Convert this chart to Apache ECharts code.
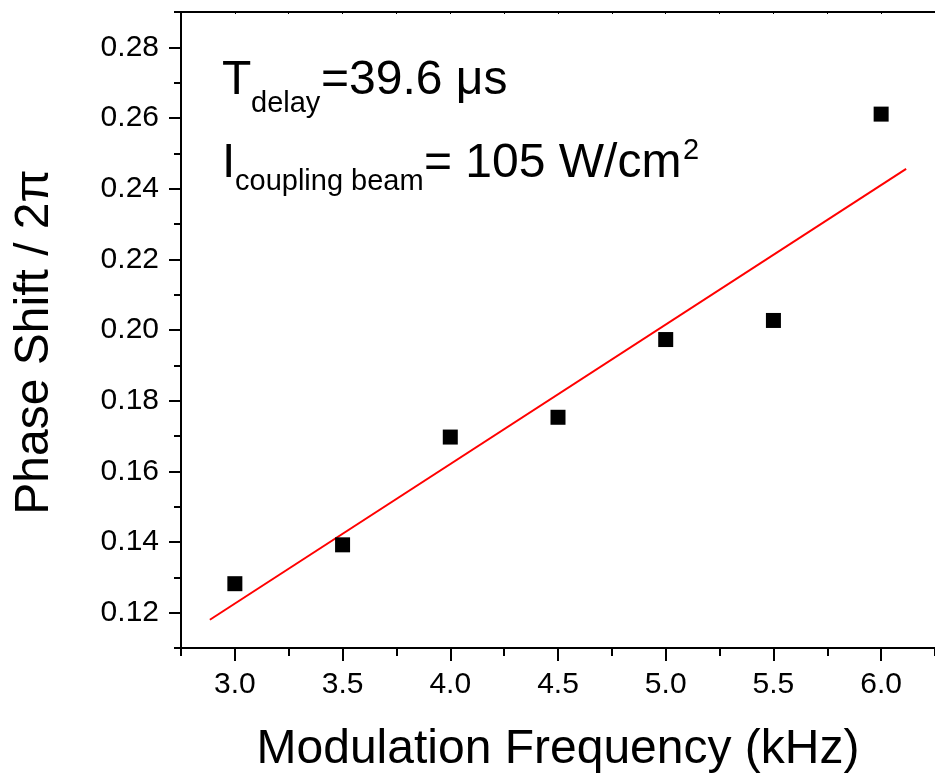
<!DOCTYPE html>
<html>
<head>
<meta charset="utf-8">
<script src="https://cdn.jsdelivr.net/npm/echarts@6/dist/echarts.min.js"></script>
<style>
  html, body { margin: 0; padding: 0; background: #fff; }
  #chart { width: 935px; height: 781px; }
</style>
</head>
<body>
<div id="chart"></div>
<script>
// measured points
const freq = [3.0, 3.5, 4.0, 4.5, 5.0, 5.5, 6.0]
const phase = [0.1282, 0.1392, 0.1697, 0.1753, 0.1973, 0.2027, 0.2611]

// linear fit line, endpoints
const fitX = [2.884, 6.116]
const fitY = [0.118, 0.2456]

// tick positions
const xMajorTicks = [3.0, 3.5, 4.0, 4.5, 5.0, 5.5, 6.0]
const xMinorTicks = [2.75, 3.25, 3.75, 4.25, 4.75, 5.25, 5.75, 6.25]
const yMajorTicks = [0.12, 0.14, 0.16, 0.18, 0.20, 0.22, 0.24, 0.26, 0.28]
const yMinorTicks = [0.11, 0.13, 0.15, 0.17, 0.19, 0.21, 0.23, 0.25, 0.27, 0.29]

const FONT = 'Liberation Sans, Arial, sans-serif'
const chart = echarts.init(document.getElementById('chart'))

const xRange = { min: 2.75, max: 6.25 }
const yRange = { min: 0.11, max: 0.29 }
const axisLine = { show: true, lineStyle: { color: '#000', width: 2 } }

const option = {
  animation: false,
  grid: { left: 181, top: 12, right: -1, bottom: 133, containLabel: false },
  xAxis: [
    {
      type: 'value', position: 'bottom', ...xRange,
      axisLine,
      splitLine: { show: false },
      axisTick: { show: true, inside: false, length: 13, lineStyle: { color: '#000', width: 2 }, customValues: xMajorTicks },
      axisLabel: {
        show: true, margin: 22, fontSize: 30, color: '#000', fontFamily: FONT,
        customValues: xMajorTicks, formatter: v => v.toFixed(1)
      }
    },
    {
      type: 'value', position: 'bottom', ...xRange,
      axisLine: { show: false },
      splitLine: { show: false },
      axisTick: { show: true, inside: false, length: 8, lineStyle: { color: '#000', width: 2 }, customValues: xMinorTicks },
      axisLabel: { show: false }
    },
    {
      type: 'value', position: 'top', ...xRange,
      axisLine,
      splitLine: { show: false },
      axisTick: { show: true, inside: true, length: 2, lineStyle: { color: '#000', width: 1 }, customValues: xMinorTicks.concat(xMajorTicks) },
      axisLabel: { show: false }
    }
  ],
  yAxis: [
    {
      type: 'value', position: 'left', ...yRange,
      axisLine,
      splitLine: { show: false },
      axisTick: { show: true, inside: false, length: 12, lineStyle: { color: '#000', width: 2 }, customValues: yMajorTicks },
      axisLabel: {
        show: true, margin: 22, fontSize: 30, color: '#000', fontFamily: FONT,
        customValues: yMajorTicks, formatter: v => v.toFixed(2)
      }
    },
    {
      type: 'value', position: 'left', ...yRange,
      axisLine: { show: false },
      splitLine: { show: false },
      axisTick: { show: true, inside: false, length: 7, lineStyle: { color: '#000', width: 2 }, customValues: yMinorTicks },
      axisLabel: { show: false }
    }
  ],
  series: [
    {
      type: 'line',
      xAxisIndex: 0, yAxisIndex: 0,
      data: fitX.map((x, i) => [x, fitY[i]]),
      showSymbol: false,
      lineStyle: { color: '#ff0000', width: 2 },
      z: 2
    },
    {
      type: 'scatter',
      xAxisIndex: 0, yAxisIndex: 0,
      data: freq.map((x, i) => [x, phase[i]]),
      symbol: 'rect',
      symbolSize: 15,
      itemStyle: { color: '#000', opacity: 1 },
      z: 3
    }
  ],
  graphic: [
    // axis titles
    { type: 'text', x: 35, y: 342, rotation: Math.PI / 2,
      style: { text: 'Phase Shift / 2π', font: '48px ' + FONT, fill: '#000', align: 'center', verticalAlign: 'middle' } },
    { type: 'text', x: 558, y: 750,
      style: { text: 'Modulation Frequency (kHz)', font: '48px ' + FONT, fill: '#000', align: 'center', verticalAlign: 'middle' } },
    // annotation line 1
    { type: 'text', x: 222, y: 81, style: { text: 'T', font: '48px ' + FONT, fill: '#000', verticalAlign: 'middle' } },
    { type: 'text', x: 251, y: 104, style: { text: 'delay', font: '29px ' + FONT, fill: '#000', verticalAlign: 'middle' } },
    { type: 'text', x: 321, y: 81, style: { text: '=39.6 μs', font: '48px ' + FONT, fill: '#000', verticalAlign: 'middle' } },
    // annotation line 2
    { type: 'text', x: 222, y: 164, style: { text: 'I', font: '48px ' + FONT, fill: '#000', verticalAlign: 'middle' } },
    { type: 'text', x: 235, y: 182, style: { text: 'coupling beam', font: '29px ' + FONT, fill: '#000', verticalAlign: 'middle' } },
    { type: 'text', x: 424, y: 164, style: { text: '= 105 W/cm', font: '48px ' + FONT, fill: '#000', verticalAlign: 'middle' } },
    { type: 'text', x: 683, y: 151, style: { text: '2', font: '29px ' + FONT, fill: '#000', verticalAlign: 'middle' } }
  ]
}

chart.setOption(option)
</script>
</body>
</html>
